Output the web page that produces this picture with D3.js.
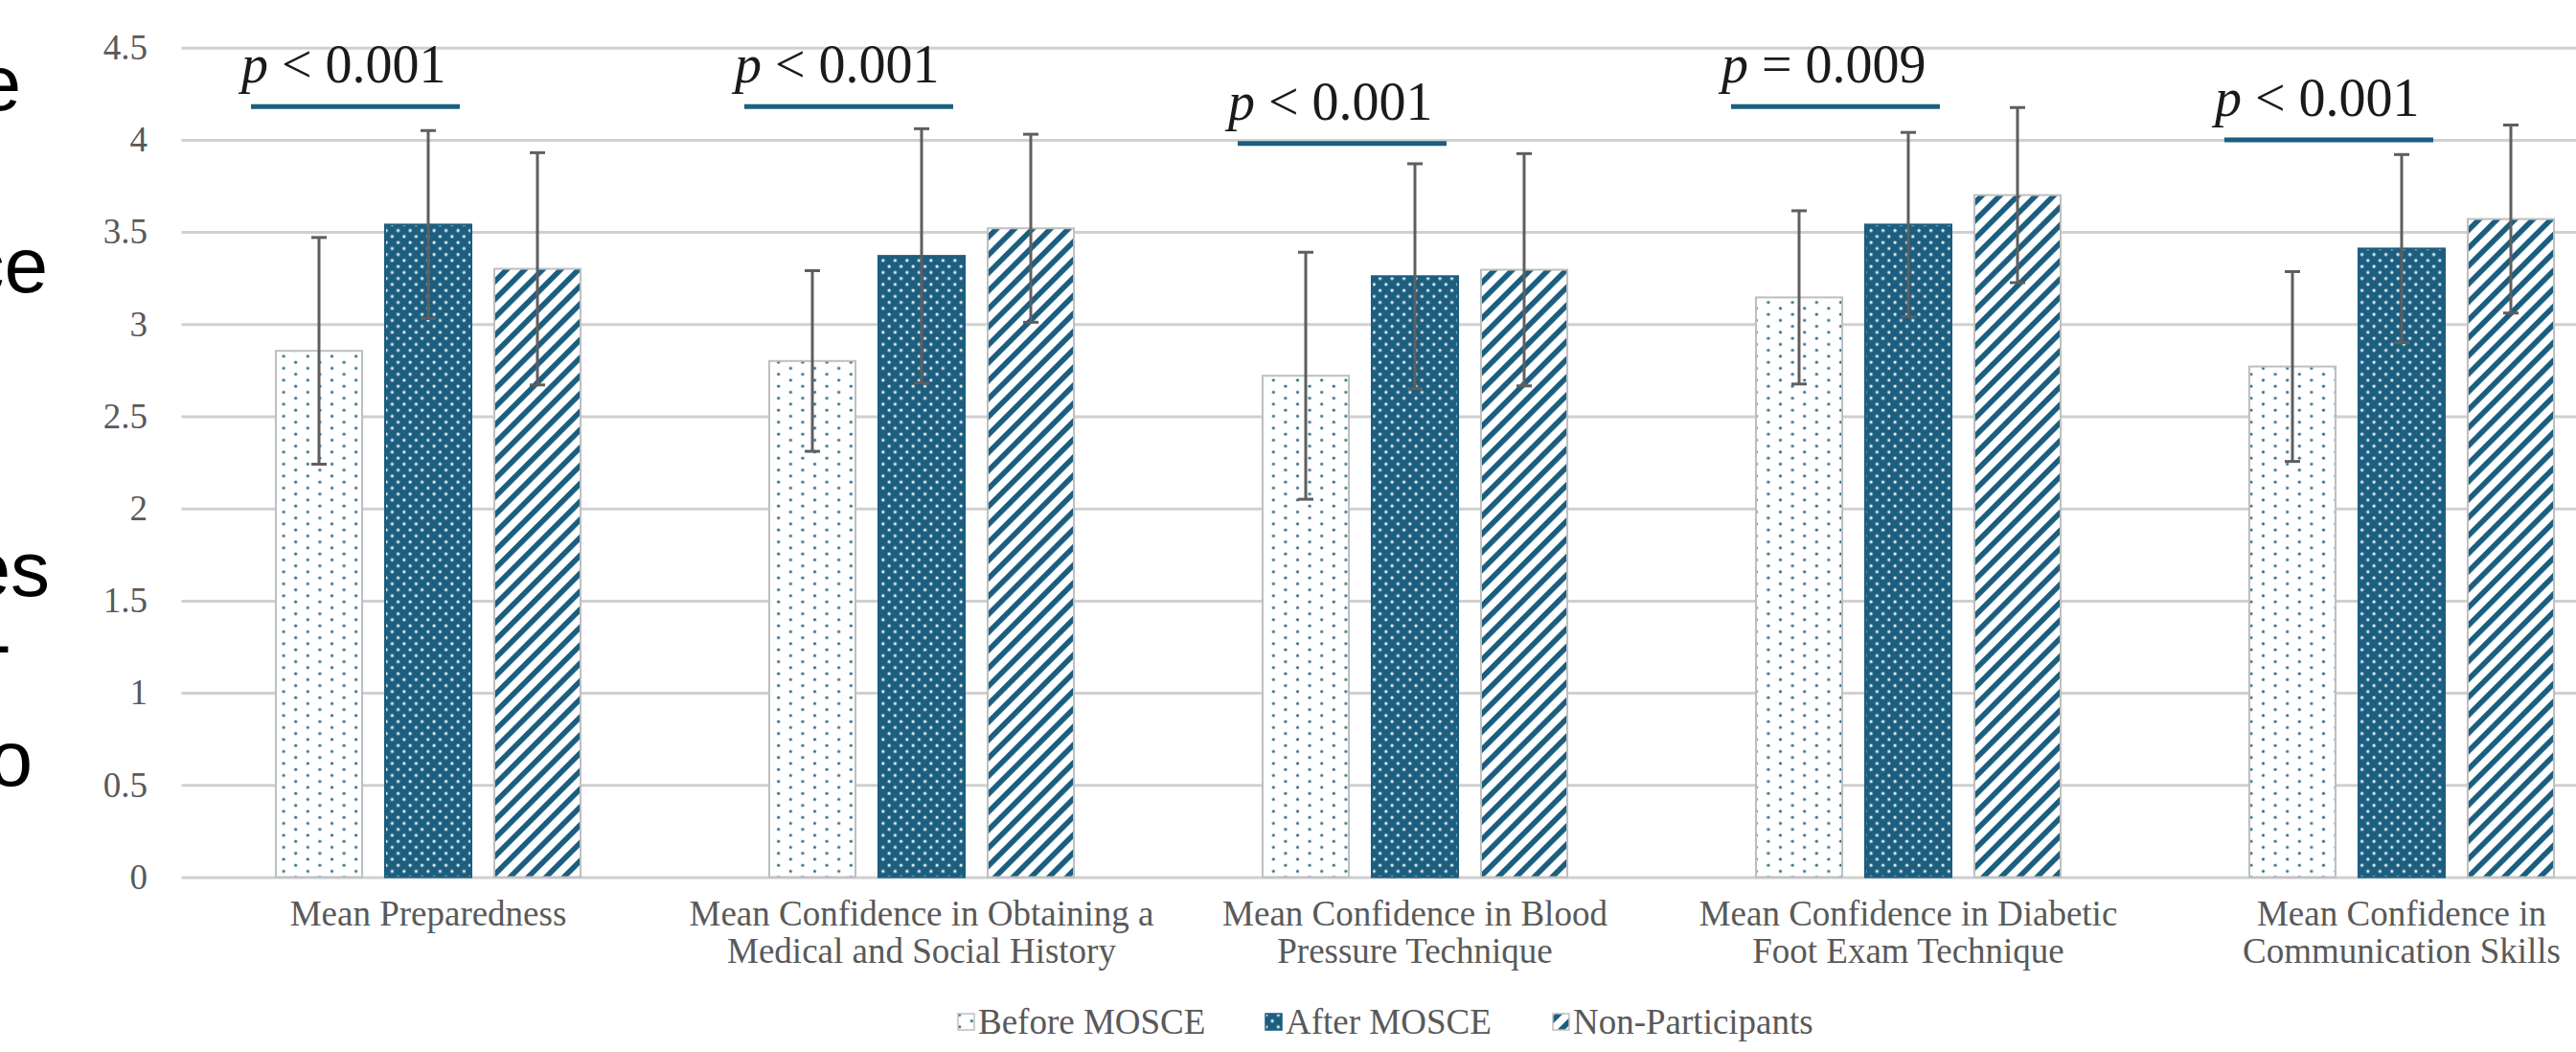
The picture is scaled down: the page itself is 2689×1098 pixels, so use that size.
<!DOCTYPE html>
<html>
<head>
<meta charset="utf-8">
<script src="https://cdn.jsdelivr.net/npm/d3@7/dist/d3.min.js"></script>
<style>
  html, body { margin: 0; padding: 0; background: #ffffff; }
  svg { display: block; }
</style>
</head>
<body>
<svg id="chart" width="2689" height="1098"></svg>
<script>
// ---------- data ----------
const categories = [
  "Mean Preparedness",
  "Mean Confidence in Obtaining a Medical and Social History",
  "Mean Confidence in Blood Pressure Technique",
  "Mean Confidence in Diabetic Foot Exam Technique",
  "Mean Confidence in Communication Skills"
];
const categoryLines = [
  ["Mean Preparedness"],
  ["Mean Confidence in Obtaining a", "Medical and Social History"],
  ["Mean Confidence in Blood", "Pressure Technique"],
  ["Mean Confidence in Diabetic", "Foot Exam Technique"],
  ["Mean Confidence in", "Communication Skills"]
];
const seriesNames = ["Before MOSCE", "After MOSCE", "Non-Participants"];
const beforeMean = [2.855, 2.80, 2.72, 3.145, 2.77];
const afterMean  = [3.54, 3.37, 3.26, 3.54, 3.41];
const nonMean    = [3.30, 3.52, 3.295, 3.70, 3.57];
const beforeSD   = [0.615, 0.49, 0.67, 0.47, 0.515];
const afterSD    = [0.51, 0.69, 0.61, 0.50, 0.51];
const nonSD      = [0.63, 0.51, 0.63, 0.475, 0.51];
const yTicks = [0, 0.5, 1, 1.5, 2, 2.5, 3, 3.5, 4, 4.5];
const yTickLabels = ["0", "0.5", "1", "1.5", "2", "2.5", "3", "3.5", "4", "4.5"];
const pOperators = ["<", "<", "<", "=", "<"];
const pValues = ["0.001", "0.001", "0.001", "0.009", "0.001"];
const pLineLevel = [4.18, 4.18, 3.98, 4.18, 4.00];
// clipped text of a neighbouring column at the left edge
const sideText = ["e", "ce", "es", "-", "o"];

// ---------- layout ----------
const TEAL = "#1b5e7f";
const GRID = "#d0d0d0";
const LABEL = "#595959";
const svg = d3.select("#chart");
const plotLeft = 189.5, bandW = 515;
const yTop = 49.7, yBottom = 915.5;

const x = d3.scaleBand().domain(categories)
  .range([plotLeft, plotLeft + bandW * categories.length]).padding(0);
const step = 114, pin = 0.21;
const half = step * (seriesNames.length - pin) / 2;
const xs = d3.scaleBand().domain(seriesNames).range([-half, half])
  .paddingInner(pin).paddingOuter(0);
const y = d3.scaleLinear().domain([0, 4.5]).range([yBottom, yTop]);

// ---------- patterns ----------
const defs = svg.append("defs");
const pBefore = defs.append("pattern").attr("id", "patBefore")
  .attr("patternUnits", "userSpaceOnUse").attr("width", 25.2).attr("height", 12.5);
pBefore.append("rect").attr("width", 25.2).attr("height", 12.5).attr("fill", "#fff");
[[6.3, 3.1], [18.9, 9.35]].forEach(([cx, cy]) => {
  pBefore.append("circle").attr("cx", cx).attr("cy", cy).attr("r", 2.0)
    .attr("fill", TEAL).attr("opacity", 0.3);
  pBefore.append("circle").attr("cx", cx).attr("cy", cy).attr("r", 1.25).attr("fill", TEAL);
});
const pAfter = defs.append("pattern").attr("id", "patAfter")
  .attr("patternUnits", "userSpaceOnUse").attr("width", 12.5).attr("height", 12.5);
pAfter.append("rect").attr("width", 12.5).attr("height", 12.5).attr("fill", TEAL);
[[3.1, 3.1], [9.35, 9.35]].forEach(([cx, cy]) => {
  pAfter.append("circle").attr("cx", cx).attr("cy", cy).attr("r", 2.1)
    .attr("fill", "#fff").attr("opacity", 0.3);
  pAfter.append("circle").attr("cx", cx).attr("cy", cy).attr("r", 1.2).attr("fill", "#fff");
});
const per = 13.26;
const pNon = defs.append("pattern").attr("id", "patNon")
  .attr("patternUnits", "userSpaceOnUse").attr("width", per).attr("height", per)
  .attr("patternTransform", "rotate(45)");
pNon.append("rect").attr("width", per).attr("height", per).attr("fill", "#fff");
pNon.append("rect").attr("width", 5.6).attr("height", per).attr("fill", TEAL);
const patIds = ["patBefore", "patAfter", "patNon"];
const strokes = ["#bfbfbf", TEAL, "#bfbfbf"];

// ---------- gridlines + y axis ----------
const yAxis = d3.axisLeft(y).tickValues(yTicks)
  .tickFormat((d, i) => yTickLabels[i])
  .tickSize(-(bandW * categories.length)).tickPadding(35.5);
const gy = svg.append("g").attr("transform", `translate(${plotLeft},0)`).call(yAxis);
gy.select(".domain").remove();
gy.selectAll(".tick line").attr("stroke", GRID).attr("stroke-width", 3);
gy.selectAll(".tick text").attr("fill", LABEL)
  .style("font-family", "'Liberation Serif', 'Times New Roman', serif")
  .style("font-size", "37px");

// ---------- bars ----------
const means = [beforeMean, afterMean, nonMean];
const sds = [beforeSD, afterSD, nonSD];
const rows = [];
categories.forEach((c, ci) => seriesNames.forEach((s, si) => {
  rows.push({ c, ci, s, si, m: means[si][ci], sd: sds[si][ci] });
}));
const gBars = svg.append("g");
gBars.selectAll("rect").data(rows).join("rect")
  .attr("x", d => x(d.c) + x.bandwidth() / 2 + xs(d.s))
  .attr("width", xs.bandwidth())
  .attr("y", d => y(d.m))
  .attr("height", d => y(0) - y(d.m))
  .attr("fill", d => `url(#${patIds[d.si]})`)
  .attr("stroke", d => strokes[d.si])
  .attr("stroke-width", 2);

// ---------- error bars ----------
const gErr = svg.append("g").attr("stroke", "#5e5e5e").attr("stroke-width", 3);
const cx = d => x(d.c) + x.bandwidth() / 2 + xs(d.s) + xs.bandwidth() / 2;
gErr.selectAll("line.v").data(rows).join("line").attr("class", "v")
  .attr("x1", cx).attr("x2", cx)
  .attr("y1", d => y(d.m + d.sd)).attr("y2", d => y(d.m - d.sd));
gErr.selectAll("line.t").data(rows).join("line").attr("class", "t")
  .attr("x1", d => cx(d) - 8).attr("x2", d => cx(d) + 8)
  .attr("y1", d => y(d.m + d.sd)).attr("y2", d => y(d.m + d.sd));
gErr.selectAll("line.b").data(rows).join("line").attr("class", "b")
  .attr("x1", d => cx(d) - 8).attr("x2", d => cx(d) + 8)
  .attr("y1", d => y(d.m - d.sd)).attr("y2", d => y(d.m - d.sd));

// ---------- p-value annotations ----------
const gP = svg.append("g");
categories.forEach((c, i) => {
  const x1 = x(c) + x.bandwidth() / 2 + xs(seriesNames[0]) - 26;
  const x2 = x1 + 218;
  const ly = y(pLineLevel[i]);
  gP.append("line").attr("x1", x1).attr("x2", x2).attr("y1", ly).attr("y2", ly)
    .attr("stroke", TEAL).attr("stroke-width", 5);
  const t = gP.append("text").attr("x", x1 - 10).attr("y", ly - 25)
    .attr("fill", "#1a1a1a")
    .style("font-family", "'Liberation Serif', 'Times New Roman', serif")
    .style("font-size", "56px");
  t.append("tspan").style("font-style", "italic").text("p");
  t.append("tspan").text(` ${pOperators[i]} ${pValues[i]}`);
});

// ---------- category labels ----------
const gX = svg.append("g")
  .style("font-family", "'Liberation Serif', 'Times New Roman', serif")
  .style("font-size", "37px").attr("fill", LABEL).attr("text-anchor", "middle");
categories.forEach((c, i) => {
  const t = gX.append("text").attr("x", x(c) + x.bandwidth() / 2).attr("y", 966);
  categoryLines[i].forEach((ln, k) => {
    t.append("tspan").attr("x", x(c) + x.bandwidth() / 2).attr("dy", k === 0 ? 0 : 39).text(ln);
  });
});

// ---------- legend ----------
const legendX = [1000, 1321, 1621];
const gL = svg.append("g");
seriesNames.forEach((s, i) => {
  gL.append("rect").attr("x", legendX[i]).attr("y", 1058).attr("width", 17).attr("height", 17)
    .attr("fill", `url(#${patIds[i]})`).attr("stroke", strokes[i]).attr("stroke-width", 1.5);
  gL.append("text").attr("x", legendX[i] + 21).attr("y", 1079).text(s)
    .attr("fill", LABEL)
    .style("font-family", "'Liberation Serif', 'Times New Roman', serif")
    .style("font-size", "37px");
});

// ---------- clipped side text ----------
const sideRight = [22, 50, 52, 12, 34];
const sideBase = [115, 305, 622, 700, 820];
const gS = svg.append("g")
  .style("font-family", "'Liberation Sans', Arial, sans-serif")
  .style("font-size", "82px").attr("fill", "#000").attr("text-anchor", "end");
sideText.forEach((s, i) => {
  gS.append("text").attr("x", sideRight[i]).attr("y", sideBase[i]).text(s);
});
</script>
</body>
</html>
